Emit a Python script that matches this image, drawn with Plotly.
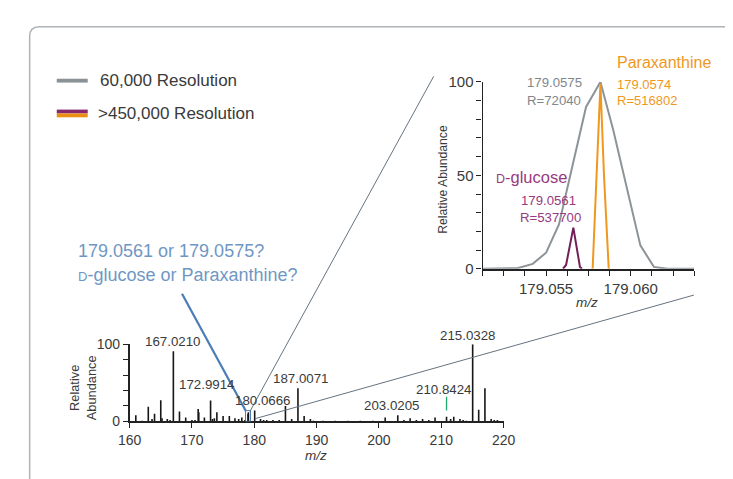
import plotly.graph_objects as go

W, H = 733, 479

# ---------------- data ----------------
# main MS spectrum (stick peaks): m/z and relative abundance
main_mz = [161.0, 162.0, 163.0, 163.6, 164.0, 165.0, 165.2, 166.05, 166.5, 167.021,
           168.0, 169.0, 170.0, 170.5, 171.0, 171.1, 172.0, 172.9914, 173.3, 173.6,
           174.0, 175.0, 176.0, 176.9, 177.5, 178.0, 178.5, 179.0, 179.06, 180.0666,
           181.0, 181.5, 182.0, 183.0, 184.0, 185.0, 186.0, 187.0071, 188.0, 189.0,
           189.5, 191.0, 193.0, 195.0, 197.0, 199.0, 201.0, 203.0205, 204.0, 205.0,
           206.0, 207.0, 208.0, 209.0, 210.8424, 211.5, 212.0, 213.0, 213.5, 214.0,
           215.0328, 216.0, 217.0, 218.0, 218.5, 219.0]
main_ab = [8, 1, 19, 3, 10, 27.5, 4, 3, 2, 91,
           13, 5, 2, 2, 16, 12, 5, 27, 3, 4,
           12, 7, 7, 4, 3, 5, 2, 10, 12, 14,
           3, 2, 2, 2, 2, 20, 3, 43, 7, 3,
           1, 1, 1, 1, 1, 1, 5, 8, 2, 4,
           2, 3, 2, 5, 6, 3, 6, 3, 2, 1,
           100, 15, 43, 3, 2, 2]
main_x_ticks = [160, 170, 180, 190, 200, 210, 220]
main_y_ticks = [0, 20, 40, 60, 80, 100]
main_y_text = ["0", "", "", "", "", "100"]

peak_labels = ["167.0210", "172.9914", "180.0666", "187.0071", "203.0205", "210.8424", "215.0328"]

# zoomed region highlighted in the main spectrum
zoom_mz = [178.6, 179.4]
zoom_ab = [0, 14]
marker_mz = 210.8424
marker_ab = [14, 32]

# inset: 179.05 region
gray_mz = [179.05125, 179.0533, 179.05421, 179.0550, 179.05576, 179.05651, 179.05736,
           179.05821, 179.05896, 179.06057, 179.06137, 179.06217, 179.06375]
gray_ab = [0, 0.3, 2.6, 8.6, 23.7, 53, 86.6, 100, 74.5, 12.5, 1, 0, 0]
orange_mz = [179.05775, 179.05800, 179.05821, 179.05842, 179.05870]
orange_ab = [0, 50, 99, 50, 0]
purple_mz = [179.05600, 179.05618, 179.05661, 179.05700, 179.05712]
purple_ab = [0, 2, 22, 1, 0]
inset_x_ticks = [179.05125, 179.0525, 179.05375, 179.055, 179.05625, 179.0575,
                 179.05875, 179.060, 179.06125, 179.0625, 179.06375]
inset_x_text = ["", "", "", "179.055", "", "", "", "179.060", "", "", ""]
inset_y_ticks = [0, 10, 20, 30, 40, 50, 60, 70, 80, 90, 100]
inset_y_text = ["0", "", "", "", "", "50", "", "", "", "", "100"]

# ---------------- style ----------------
FONT = "Liberation Sans, Arial, sans-serif"
TXT = "#3a3a3a"
GRAY = "#8d9498"
ORANGE = "#ef981e"
PURPLE = "#741f58"
PURPLE_T = "#973a80"
BLUE = "#4a7db5"
BLUE_T = "#7097c4"
AXC = "#222222"


def fx(p):
    return p / W


def fy(p):
    return 1 - p / H


def sticks(xs, ys):
    X, Y = [], []
    for a, b in zip(xs, ys):
        X += [a, a, None]
        Y += [0, b, None]
    return X, Y


fig = go.Figure()

sx, sy = sticks(main_mz, main_ab)
fig.add_trace(go.Scatter(x=sx, y=sy, mode="lines", line=dict(color="#161616", width=1.6),
                         xaxis="x", yaxis="y", hoverinfo="skip"))
fig.add_trace(go.Scatter(x=[marker_mz, marker_mz], y=marker_ab, mode="lines",
                         line=dict(color="#1fa86e", width=1.3), xaxis="x", yaxis="y"))

fig.add_trace(go.Scatter(x=gray_mz, y=gray_ab, mode="lines", line=dict(color=GRAY, width=2),
                         xaxis="x2", yaxis="y2"))
fig.add_trace(go.Scatter(x=purple_mz, y=purple_ab, mode="lines", line=dict(color=PURPLE, width=2),
                         xaxis="x2", yaxis="y2"))
fig.add_trace(go.Scatter(x=orange_mz, y=orange_ab, mode="lines", line=dict(color=ORANGE, width=2),
                         xaxis="x2", yaxis="y2"))

shapes = []
# rounded frame (open to the right and bottom)
r = 10
path = (f"M {fx(10)},{fy(560)} L {fx(10)},{fy(10 + r)} Q {fx(10)},{fy(10)} {fx(10 + r)},{fy(10)} "
        f"L {fx(820)},{fy(10)}")
shapes.append(dict(type="path", xref="paper", yref="paper", path=path,
                   line=dict(color="#aeb3b7", width=1.5), layer="below"))
# zoom rectangle
shapes.append(dict(type="rect", xref="x", yref="y", x0=zoom_mz[0], x1=zoom_mz[1],
                   y0=zoom_ab[0], y1=zoom_ab[1], line=dict(color=BLUE, width=1)))
# connector lines
shapes.append(dict(type="line", xref="paper", yref="paper", x0=fx(237.7), y0=fy(409),
                   x1=fx(427.7), y1=fy(61.5), line=dict(color="#66737f", width=1)))
shapes.append(dict(type="line", xref="paper", yref="paper", x0=fx(243), y0=fy(416.5),
                   x1=fx(696.7), y1=fy(288.3), line=dict(color="#66737f", width=1)))
shapes.append(dict(type="line", xref="paper", yref="paper", x0=fx(167.5), y0=fy(287),
                   x1=fx(233.5), y1=fy(408.5), line=dict(color=BLUE, width=2.2)))
# legend bars
shapes.append(dict(type="rect", xref="paper", yref="paper", x0=fx(38), x1=fx(70),
                   y0=fy(64), y1=fy(68), line=dict(width=0), fillcolor="#8a9296"))
shapes.append(dict(type="rect", xref="paper", yref="paper", x0=fx(38), x1=fx(70),
                   y0=fy(96), y1=fy(100), line=dict(width=0), fillcolor="#86276b"))
shapes.append(dict(type="rect", xref="paper", yref="paper", x0=fx(38), x1=fx(70),
                   y0=fy(100), y1=fy(104), line=dict(width=0), fillcolor="#ea8f14"))

ann = []


def t(text, x, y, size, color=TXT, xa="center", ya="middle", angle=0, italic=False):
    ann.append(dict(text=text, x=fx(x), y=fy(y), xref="paper", yref="paper", showarrow=False,
                    xanchor=xa, yanchor=ya, textangle=angle,
                    font=dict(size=size, color=color, family=FONT,
                              style="italic" if italic else "normal")))


# legend
t("60,000 Resolution", 81, 66, 17, xa="left")
t(">450,000 Resolution", 79, 100, 17, xa="left")
# question
t("179.0561 or 179.0575?", 58, 243, 18, BLUE_T, xa="left")
t("<span style='font-size:13px'>D</span>-glucose or Paraxanthine?", 58, 268, 18, BLUE_T, xa="left")
# main peak labels
lab_pos = [(157.5, 336.7), (193.3, 380.8), (250.5, 397.5), (290.5, 375), (384.3, 403.2),
           (438, 385.8), (462.8, 330.5)]
for s, (x, y) in zip(peak_labels, lab_pos):
    t(s, x, y, 13.3)
t("Relative<br>Abundance", 66, 384, 12.8, angle=-90)
t("m/z", 306, 455, 13.5, italic=True)
# inset texts
t("Paraxanthine", 615, 47, 16, ORANGE, xa="left")
t("179.0574", 615, 69.5, 13, ORANGE, xa="left")
t("R=516802", 615, 87, 13, ORANGE, xa="left")
t("179.0575", 522.5, 68, 13.2, "#7f878b", xa="left")
t("R=72040", 522.5, 86.5, 13.2, "#7f878b", xa="left")
t("<span style='font-size:12.5px'>D</span>-glucose", 490, 166, 16.5, PURPLE_T, xa="left")
t("179.0561", 516, 190, 13.2, PURPLE_T, xa="left")
t("R=537700", 515, 207.5, 13.2, PURPLE_T, xa="left")
t("Relative Abundance", 437, 168, 12.2, angle=-90)
t("m/z", 586, 296, 13.5, italic=True)

fig.update_layout(
    width=W, height=H, margin=dict(l=0, r=0, t=0, b=0),
    paper_bgcolor="white", plot_bgcolor="rgba(0,0,0,0)", showlegend=False,
    shapes=shapes, annotations=ann,
    xaxis=dict(domain=[fx(113.3), fx(500)], range=[160, 220], tickvals=main_x_ticks,
               ticks="outside", ticklen=5, tickwidth=1.2, tickcolor=AXC, showline=True,
               linecolor=AXC, linewidth=1.5, showgrid=False, zeroline=False,
               tickfont=dict(family=FONT, size=14, color=TXT), anchor="y"),
    yaxis=dict(domain=[fy(419.3), fy(339.3)], range=[0, 100], tickvals=main_y_ticks,
               ticktext=main_y_text, ticks="outside", ticklen=5, tickwidth=1.2, tickcolor=AXC,
               showline=True, linecolor=AXC, linewidth=1.5, showgrid=False, zeroline=False,
               tickfont=dict(family=FONT, size=14, color=TXT), anchor="x"),
    xaxis2=dict(domain=[fx(478.3), fx(697)], range=[179.05125, 179.06375], tickvals=inset_x_ticks,
                ticktext=inset_x_text, ticks="outside", ticklen=5, tickwidth=1.2, tickcolor=AXC,
                showline=True, linecolor=AXC, linewidth=1.6, showgrid=False, zeroline=False,
                tickfont=dict(family=FONT, size=15, color=TXT), anchor="y2"),
    yaxis2=dict(domain=[fy(261), fy(67.3)], range=[0, 100], tickvals=inset_y_ticks,
                ticktext=inset_y_text, ticks="outside", ticklen=5, tickwidth=1.2, tickcolor=AXC,
                showline=True, linecolor=AXC, linewidth=1.3, showgrid=False, zeroline=False,
                tickfont=dict(family=FONT, size=15, color=TXT), anchor="x2"),
)

fig.write_html("out.html")
